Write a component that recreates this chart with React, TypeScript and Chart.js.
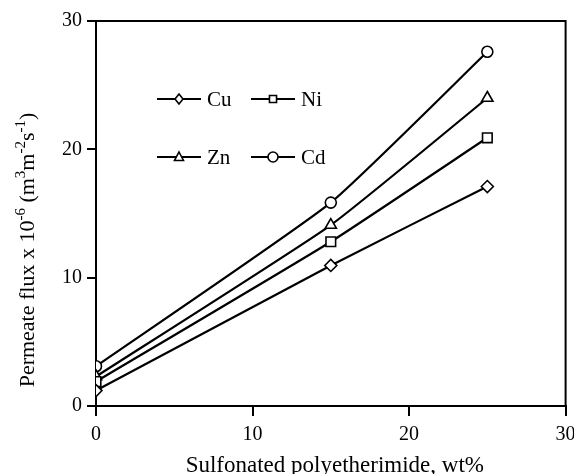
import React, { useEffect, useRef } from 'react';
import { Chart, registerables } from 'chart.js';

Chart.register(...registerables);

// ---- data ----
const xValues = [0, 15, 25];
const seriesNames = ['Cu', 'Ni', 'Zn', 'Cd'];
const cuFlux = [1.2, 10.95, 17.1];
const niFlux = [1.9, 12.8, 20.9];
const znFlux = [2.3, 14.1, 24.0];
const cdFlux = [3.1, 15.85, 27.6];
const pointStyles = ['rectRot', 'rect', 'triangle', 'circle'];
const pointRadii = [6, 6.8, 6.5, 5.5];
const xTickValues = [0, 10, 20, 30];
const yTickValues = [0, 10, 20, 30];
const xTitle = 'Sulfonated polyetherimide, wt%';
// [text, isSuperscript]
const yTitleParts: [string, boolean][] = [
  ['Permeate flux x 10', false],
  ['-6', true],
  [' (m', false],
  ['3', true],
  ['m', false],
  ['-2', true],
  ['s', false],
  ['-1', true],
  [')', false],
];

const FONT = "'Liberation Serif', 'Times New Roman', serif";

function drawMarker(ctx: CanvasRenderingContext2D, style: string, x: number, y: number, r: number) {
  ctx.beginPath();
  if (style === 'circle') {
    ctx.arc(x, y, r, 0, Math.PI * 2);
  } else if (style === 'rect') {
    const s = r * Math.SQRT1_2;
    ctx.rect(x - s, y - s, 2 * s, 2 * s);
  } else if (style === 'rectRot') {
    ctx.moveTo(x, y - r);
    ctx.lineTo(x + r * 0.8, y);
    ctx.lineTo(x, y + r);
    ctx.lineTo(x - r * 0.8, y);
    ctx.closePath();
  } else if (style === 'triangle') {
    ctx.moveTo(x, y - r);
    ctx.lineTo(x + r * 0.9, y + r * 0.7);
    ctx.lineTo(x - r * 0.9, y + r * 0.7);
    ctx.closePath();
  }
  ctx.fillStyle = '#fff';
  ctx.fill();
  ctx.lineWidth = 1.6;
  ctx.strokeStyle = '#000';
  ctx.stroke();
}

const framePlugin = {
  id: 'frameAndTitles',
  afterDraw(chart: any) {
    const { ctx, chartArea } = chart;
    const { left, right, top, bottom } = chartArea;
    ctx.save();
    // top and right frame
    ctx.strokeStyle = '#000';
    ctx.lineWidth = 2;
    ctx.beginPath();
    ctx.moveTo(left, top);
    ctx.lineTo(right, top);
    ctx.lineTo(right, bottom);
    ctx.stroke();

    // x title
    ctx.fillStyle = '#000';
    ctx.font = `23px ${FONT}`;
    ctx.textAlign = 'center';
    ctx.textBaseline = 'alphabetic';
    ctx.fillText(xTitle, (left + right) / 2 + 4, 472);

    // y title with superscripts
    const baseFont = `22px ${FONT}`;
    const supFont = `15px ${FONT}`;
    let total = 0;
    for (const [t, sup] of yTitleParts) {
      ctx.font = sup ? supFont : baseFont;
      total += ctx.measureText(t).width;
    }
    ctx.translate(34, 250);
    ctx.rotate(-Math.PI / 2);
    ctx.textAlign = 'left';
    let cx = -total / 2;
    for (const [t, sup] of yTitleParts) {
      ctx.font = sup ? supFont : baseFont;
      ctx.fillText(t, cx, sup ? -9 : 0);
      cx += ctx.measureText(t).width;
    }
    ctx.restore();

    // legend (2 x 2)
    ctx.save();
    const cols = [left + 61, left + 155];
    const rows = [top + 78, top + 136];
    const lineLen = 44;
    ctx.font = `21px ${FONT}`;
    ctx.textBaseline = 'middle';
    ctx.textAlign = 'left';
    seriesNames.forEach((name, i) => {
      const x0 = cols[i % 2];
      const y0 = rows[Math.floor(i / 2)];
      ctx.strokeStyle = '#000';
      ctx.lineWidth = 2.2;
      ctx.beginPath();
      ctx.moveTo(x0, y0);
      ctx.lineTo(x0 + lineLen, y0);
      ctx.stroke();
      drawMarker(ctx, pointStyles[i], x0 + lineLen / 2, y0, 5);
      ctx.fillStyle = '#000';
      ctx.fillText(name, x0 + lineLen + 6, y0 + 1);
    });
    ctx.restore();
  },
};

export default function App() {
  const ref = useRef<HTMLCanvasElement | null>(null);
  useEffect(() => {
    if (!ref.current) return;
    const seriesData = [cuFlux, niFlux, znFlux, cdFlux];
    const chart = new Chart(ref.current, {
      type: 'line',
      data: {
        datasets: seriesNames.map((name, i) => ({
          label: name,
          data: xValues.map((x, j) => ({ x, y: seriesData[i][j] })),
          borderColor: '#000',
          borderWidth: 2.2,
          backgroundColor: '#fff',
          pointStyle: pointStyles[i] as any,
          pointRadius: pointRadii[i],
          pointBorderWidth: 1.6,
          pointBorderColor: '#000',
          pointBackgroundColor: '#fff',
          tension: 0.15,
          fill: false,
        })),
      },
      options: {
        responsive: false,
        devicePixelRatio: 1,
        animation: false,
        layout: { padding: { top: 21, right: 8, left: 0, bottom: 0 } },
        plugins: {
          legend: { display: false },
          tooltip: { enabled: false },
        },
        scales: {
          x: {
            type: 'linear',
            min: 0,
            max: 30,
            afterBuildTicks: (s: any) => {
              s.ticks = xTickValues.map((v) => ({ value: v }));
            },
            ticks: {
              color: '#000',
              font: { family: FONT, size: 20 },
              padding: 7,
              maxRotation: 0,
            },
            grid: { drawOnChartArea: false, drawTicks: true, tickLength: 10, color: '#000', lineWidth: 2 },
            border: { display: true, color: '#000', width: 2 },
            afterFit: (s: any) => {
              s.height = 68;
              s.paddingLeft = 0;
              s.paddingRight = 0;
            },
          },
          y: {
            type: 'linear',
            min: 0,
            max: 30,
            afterBuildTicks: (s: any) => {
              s.ticks = yTickValues.map((v) => ({ value: v }));
            },
            ticks: {
              color: '#000',
              font: { family: FONT, size: 20 },
              padding: 5,
            },
            grid: { drawOnChartArea: false, drawTicks: true, tickLength: 9, color: '#000', lineWidth: 2 },
            border: { display: true, color: '#000', width: 2 },
            afterFit: (s: any) => {
              s.width = 96;
              s.paddingTop = 0;
              s.paddingBottom = 0;
            },
          },
        },
      },
      plugins: [framePlugin],
    });
    return () => chart.destroy();
  }, []);

  return (
    <div style={{ position: 'fixed', left: 0, top: 0, width: 574, height: 474, background: '#fff' }}>
      <canvas ref={ref} width={574} height={474} style={{ display: 'block' }} />
    </div>
  );
}
